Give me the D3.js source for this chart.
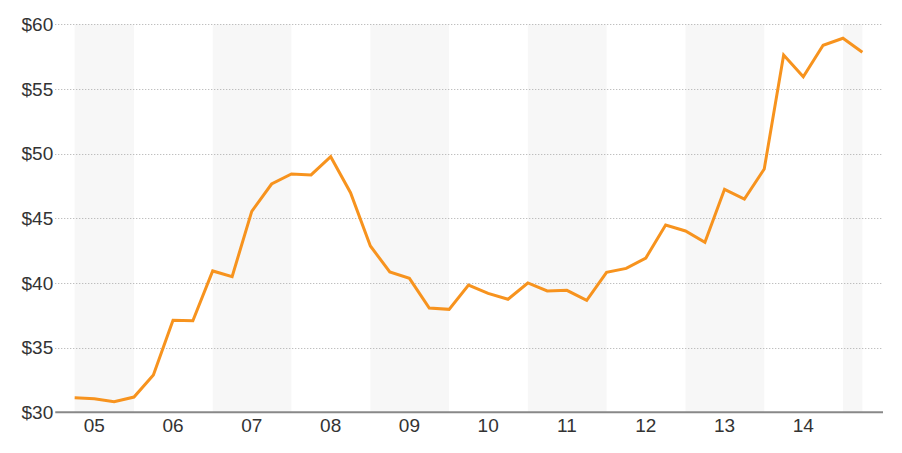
<!DOCTYPE html>
<html>
<head>
<meta charset="utf-8">
<script src="https://cdn.jsdelivr.net/npm/d3@7"></script>
<style>
  html, body { margin: 0; padding: 0; background: #fff; }
  svg { display: block; }
  text { font-family: "Liberation Sans", Arial, sans-serif; }
</style>
</head>
<body>
<svg id="chart" width="902" height="453"></svg>
<script>
// Quarterly observation dates
const quarters = [
  "2005-04-01","2005-07-01","2005-10-01",
  "2006-01-01","2006-04-01","2006-07-01","2006-10-01",
  "2007-01-01","2007-04-01","2007-07-01","2007-10-01",
  "2008-01-01","2008-04-01","2008-07-01","2008-10-01",
  "2009-01-01","2009-04-01","2009-07-01","2009-10-01",
  "2010-01-01","2010-04-01","2010-07-01","2010-10-01",
  "2011-01-01","2011-04-01","2011-07-01","2011-10-01",
  "2012-01-01","2012-04-01","2012-07-01","2012-10-01",
  "2013-01-01","2013-04-01","2013-07-01","2013-10-01",
  "2014-01-01","2014-04-01","2014-07-01","2014-10-01",
  "2015-01-01","2015-04-01"
];
// Price values
const prices = [
  31.13, 31.05, 30.82,
  31.18, 32.88, 37.11, 37.08,
  40.93, 40.49, 45.54, 47.65,
  48.43, 48.35, 49.76, 46.98,
  42.86, 40.85, 40.36, 38.06,
  37.96, 39.84, 39.20, 38.74,
  40.00, 39.38, 39.43, 38.66,
  40.82, 41.13, 41.93, 44.48,
  44.02, 43.14, 47.24, 46.49,
  48.81, 57.63, 55.95, 58.38,
  58.92, 57.84
];
const yTicks = [30, 35, 40, 45, 50, 55, 60];
const yearLabels = ["05","06","07","08","09","10","11","12","13","14"];
const years = [2005,2006,2007,2008,2009,2010,2011,2012,2013,2014,2015];

const parse = d3.timeParse("%Y-%m-%d");
const data = quarters.map((q, i) => ({ date: parse(q), value: prices[i] }));

const svg = d3.select("#chart");
const mLeft = 55.25, mRight = 882, mTop = 24.3, mBottom = 412.3;

const x = d3.scaleTime()
  .domain([new Date(2005, 0, 1), new Date(2015, 6, 1)])
  .range([mLeft, mRight]);
const y = d3.scaleLinear().domain([30, 60]).range([mBottom, mTop]);

const first = data[0].date, last = data[data.length - 1].date;

// Alternating year bands (odd years shaded), clipped to data extent
svg.append("g").selectAll("rect")
  .data(years.filter(yr => yr % 2 === 1))
  .join("rect")
  .attr("x", yr => x(d3.max([new Date(yr, 0, 1), first])))
  .attr("width", yr => x(d3.min([new Date(yr + 1, 0, 1), last])) - x(d3.max([new Date(yr, 0, 1), first])))
  .attr("y", y(60))
  .attr("height", y(30) - y(60))
  .attr("fill", "#f7f7f7");

// Gridlines
svg.append("g").selectAll("line")
  .data(yTicks.filter(t => t !== 30))
  .join("line")
  .attr("x1", mLeft).attr("x2", mRight)
  .attr("y1", d => Math.round(y(d)) + 0.5).attr("y2", d => Math.round(y(d)) + 0.5)
  .attr("stroke", "#aaa")
  .attr("stroke-width", 1)
  .attr("stroke-dasharray", "1,2");

// Y axis labels
const yAxis = d3.axisLeft(y).tickValues(yTicks).tickSize(0).tickPadding(0)
  .tickFormat(d => "$" + d);
const gy = svg.append("g").attr("transform", `translate(${mLeft - 2},0)`).call(yAxis);
gy.select(".domain").remove();
gy.selectAll("text")
  .attr("font-size", 19)
  .attr("fill", "#333")
  .style("font-family", '"Liberation Sans", Arial, sans-serif');

// X axis labels at mid-year
const gx = svg.append("g").attr("transform", `translate(0,${mBottom})`);
gx.selectAll("text")
  .data(yearLabels)
  .join("text")
  .attr("x", (d, i) => x(new Date(years[i], 6, 1)))
  .attr("y", 19.3)
  .attr("text-anchor", "middle")
  .attr("font-size", 19)
  .attr("fill", "#333")
  .text(d => d);

// Line
const line = d3.line().x(d => x(d.date)).y(d => y(d.value));
svg.append("path")
  .datum(data)
  .attr("d", line)
  .attr("fill", "none")
  .attr("stroke", "#f7931e")
  .attr("stroke-width", 3)
  .attr("stroke-linejoin", "miter");

// Baseline axis
svg.append("line")
  .attr("x1", mLeft).attr("x2", mRight + 1)
  .attr("y1", mBottom).attr("y2", mBottom)
  .attr("stroke", "#888")
  .attr("stroke-width", 2);
</script>
</body>
</html>
